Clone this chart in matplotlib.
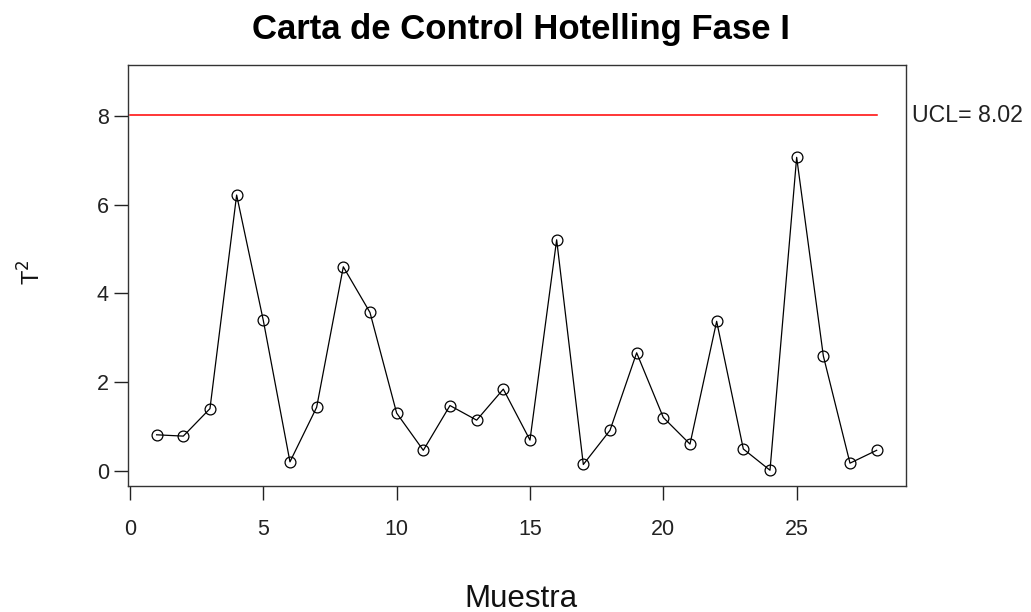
import matplotlib
matplotlib.use("Agg")
import matplotlib.pyplot as plt

# T^2 statistic for each sample (Phase I)
muestra = list(range(1, 29))
t2 = [0.81, 0.78, 1.40, 6.22, 3.39, 0.20, 1.43, 4.60, 3.57, 1.30,
      0.46, 1.47, 1.14, 1.84, 0.69, 5.21, 0.14, 0.91, 2.66, 1.20,
      0.60, 3.37, 0.49, 0.01, 7.07, 2.59, 0.17, 0.46]
ucl = 8.02
ucl_span = [0, 28]
x_ticks = [0, 5, 10, 15, 20, 25]
y_ticks = [0, 2, 4, 6, 8]

plt.rcParams['font.family'] = ['Liberation Sans', 'DejaVu Sans']

fig = plt.figure(figsize=(10.31, 6.12), dpi=100)
ax = fig.add_axes([0.1244, 0.2059, 0.7541, 0.6884])

ax.plot(ucl_span, [ucl, ucl], color='#ff0000', lw=1.1, zorder=2)
ax.plot(muestra, t2, color='black', lw=0.9, marker='o', markersize=7.8,
        markerfacecolor='none', markeredgecolor='black', markeredgewidth=0.9,
        zorder=3)

ax.set_xlim(-0.064, 29.09)
ax.set_ylim(-0.345, 9.16)
ax.set_xticks(x_ticks)
ax.set_yticks(y_ticks)
ax.tick_params(axis='both', direction='out', length=10, width=1.0,
               labelsize=15.5, colors='#222222')
ax.tick_params(axis='x', pad=14)
ax.tick_params(axis='y', pad=4)
for s in ax.spines.values():
    s.set_linewidth(1.0)
    s.set_color('#333333')

ax.text(1.008, ucl, 'UCL= 8.02', transform=ax.get_yaxis_transform(),
        ha='left', va='center', fontsize=16.7, color='#222222', clip_on=False)

fig.text(0.5055, 0.952, 'Carta de Control Hotelling Fase I', ha='center',
         va='center', fontsize=25, fontweight='bold', color='black')
fig.text(0.5055, 0.022, 'Muestra', ha='center', va='center', fontsize=22.5,
         color='#111111')
fig.text(0.031, 0.555, r'T$^2$', ha='center', va='center', fontsize=17,
         rotation=90, color='#111111')

fig.savefig('out.png', dpi=100)
